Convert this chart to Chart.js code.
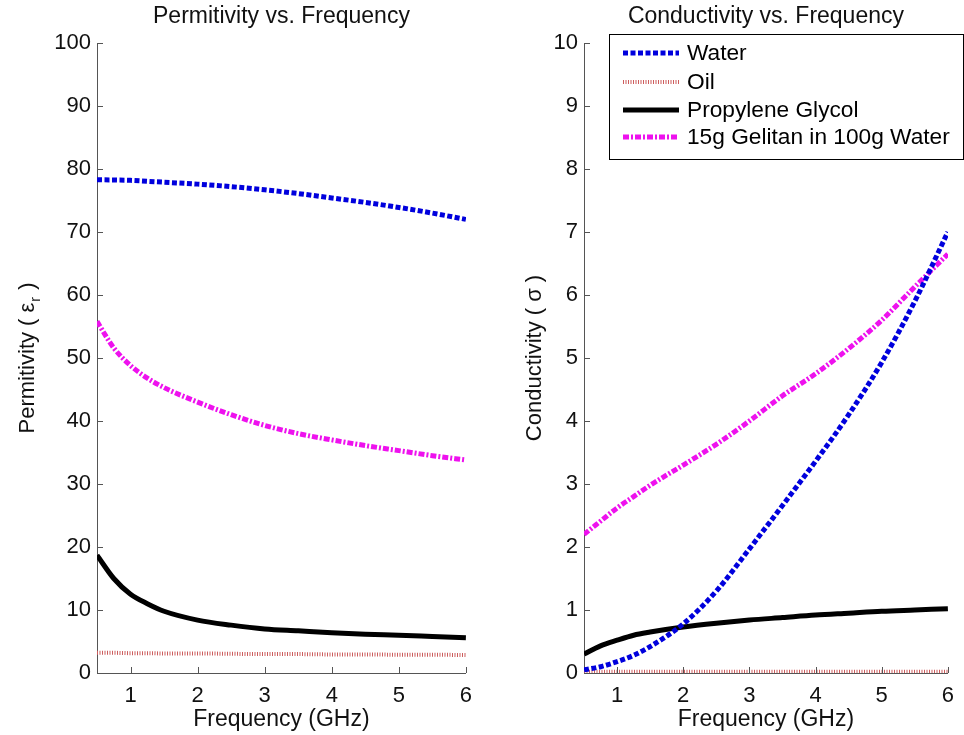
<!DOCTYPE html>
<html lang="en">
<head>
  <meta charset="UTF-8">
  <title>Permitivity / Conductivity vs. Frequency</title>
  <script src="https://cdn.jsdelivr.net/npm/chart.js"></script>
  <style>
    body {
      margin: 0;
      background: #fff;
      font-family: "Liberation Sans", Arial, sans-serif;
    }
    .panel {
      position: absolute;
      top: 0;
      width: 482px;
      height: 735px;
    }
  </style>
</head>
<body>

  <div class="panel" style="left:0"><canvas id="permChart" width="482" height="735"></canvas></div>
  <div class="panel" style="left:482px"><canvas id="condChart" width="482" height="735"></canvas></div>

  <script>
    // frequency samples (GHz)
    const freq = [0.5, 0.75, 1, 1.25, 1.5, 2, 2.5, 3, 3.5, 4, 4.5, 5, 5.5, 6];

    // permitivity (eps_r)
    const waterEps = [78.3, 78.25, 78.2, 78.05, 77.9, 77.6, 77.2, 76.7, 76.1, 75.4, 74.7, 73.9, 73.0, 72.0];
    const oilEps   = [3.2, 3.2, 3.15, 3.15, 3.1, 3.1, 3.05, 3.0, 3.0, 2.95, 2.95, 2.9, 2.9, 2.85];
    const pgEps    = [18.7, 15.0, 12.5, 11.0, 9.8, 8.4, 7.6, 7.0, 6.7, 6.4, 6.15, 6.0, 5.8, 5.6];
    const gelEps   = [55.8, 51.6, 48.8, 46.8, 45.3, 43.0, 41.0, 39.3, 38.0, 37.0, 36.1, 35.3, 34.5, 33.8];

    // conductivity (sigma)
    const waterSig = [0.05, 0.1, 0.18, 0.28, 0.42, 0.78, 1.3, 1.97, 2.66, 3.36, 4.1, 4.93, 5.9, 7.0];
    const oilSig   = [0.02, 0.02, 0.02, 0.02, 0.02, 0.02, 0.02, 0.02, 0.02, 0.02, 0.02, 0.02, 0.02, 0.02];
    const pgSig    = [0.3, 0.43, 0.52, 0.6, 0.65, 0.73, 0.79, 0.84, 0.88, 0.92, 0.95, 0.98, 1.0, 1.02];
    const gelSig   = [2.2, 2.41, 2.62, 2.8, 2.98, 3.3, 3.63, 4.0, 4.4, 4.75, 5.15, 5.6, 6.13, 6.65];

    const seriesNames = ['Water', 'Oil', 'Propylene Glycol', '15g Gelitan in 100g Water'];
    const xTicks = [1, 2, 3, 4, 5, 6];

    const FONT = '"Liberation Sans", Arial, sans-serif';

    function pts(vals) {
      return freq.map((f, i) => ({ x: f, y: vals[i] }));
    }

    function makeDatasets(w, o, p, g) {
      return [
        { label: seriesNames[0], data: pts(w), borderColor: '#0000dd', borderWidth: 5, borderDash: [5, 2.5] },
        { label: seriesNames[1], data: pts(o), borderColor: '#cc5c5c', borderWidth: 4, borderDash: [1, 1.5] },
        { label: seriesNames[2], data: pts(p), borderColor: '#000000', borderWidth: 5 },
        { label: seriesNames[3], data: pts(g), borderColor: '#ee11ee', borderWidth: 5, borderDash: [6, 2, 2, 2] }
      ].map(d => Object.assign(d, { pointRadius: 0, fill: false, cubicInterpolationMode: 'monotone' }));
    }

    // inward tick marks, like the original plot
    const innerTicks = {
      id: 'innerTicks',
      afterDraw(chart) {
        const { ctx, chartArea, scales } = chart;
        ctx.save();
        ctx.strokeStyle = '#555';
        ctx.lineWidth = 1;
        ctx.beginPath();
        scales.x.ticks.forEach(t => {
          const px = Math.round(scales.x.getPixelForValue(t.value)) + 0.5;
          ctx.moveTo(px, chartArea.bottom);
          ctx.lineTo(px, chartArea.bottom - 6);
        });
        scales.y.ticks.forEach(t => {
          const py = Math.round(scales.y.getPixelForValue(t.value)) + 0.5;
          ctx.moveTo(chartArea.left, py);
          ctx.lineTo(chartArea.left + 6, py);
        });
        ctx.stroke();
        ctx.restore();
      }
    };

    // panel title centred over the plot area + rotated y title (with subscript)
    const panelText = {
      id: 'panelText',
      afterDraw(chart, args, opts) {
        const { ctx, chartArea } = chart;
        ctx.save();
        ctx.fillStyle = '#111';
        ctx.textBaseline = 'middle';
        ctx.textAlign = 'center';
        ctx.font = '23px ' + FONT;
        ctx.fillText(opts.title, (chartArea.left + chartArea.right) / 2, 17);

        const cy = (chartArea.top + chartArea.bottom) / 2;
        ctx.translate(opts.x, cy);
        ctx.rotate(-Math.PI / 2);
        ctx.textAlign = 'left';
        const main = opts.pre, sub = opts.sub || '', post = opts.post;
        ctx.font = '22px ' + FONT;
        const w1 = ctx.measureText(main).width;
        const w3 = ctx.measureText(post).width;
        ctx.font = '14px ' + FONT;
        const w2 = sub ? ctx.measureText(sub).width + 2 : 0;
        let x = -(w1 + w2 + w3) / 2;
        ctx.font = '22px ' + FONT;
        ctx.fillText(main, x, 0);
        x += w1;
        if (sub) {
          ctx.font = '14px ' + FONT;
          ctx.fillText(sub, x + 1, 8);
          x += w2;
        }
        ctx.font = '22px ' + FONT;
        ctx.fillText(post, x, 0);
        ctx.restore();
      }
    };

    // boxed legend in the upper right of the conductivity plot
    const boxLegend = {
      id: 'boxLegend',
      afterDraw(chart) {
        if (!chart.options.plugins.boxLegend.show) return;
        const { ctx } = chart;
        ctx.save();
        ctx.fillStyle = '#fff';
        ctx.fillRect(127, 34, 354, 125);
        ctx.strokeStyle = '#000';
        ctx.lineWidth = 1;
        ctx.strokeRect(127.5, 34.5, 354, 125);
        const rows = [53, 82, 110, 137];
        chart.data.datasets.forEach((d, i) => {
          ctx.beginPath();
          ctx.strokeStyle = d.borderColor;
          ctx.lineWidth = d.borderWidth;
          ctx.setLineDash(d.borderDash || []);
          ctx.moveTo(141, rows[i]);
          ctx.lineTo(197, rows[i]);
          ctx.stroke();
          ctx.setLineDash([]);
          ctx.fillStyle = '#000';
          ctx.font = '22.7px ' + FONT;
          ctx.textBaseline = 'middle';
          ctx.fillText(d.label, 205, rows[i] + 1);
        });
        ctx.restore();
      }
    };

    function makeOptions(yMax, yStep, yWidth, padRight, text, legendOn) {
      return {
        responsive: false,
        animation: false,
        layout: { padding: { left: 0, right: padRight, top: 43, bottom: 0 } },
        plugins: {
          legend: { display: false },
          tooltip: { enabled: false },
          title: { display: false },
          panelText: text,
          boxLegend: { show: legendOn }
        },
        scales: {
          x: {
            type: 'linear',
            min: 0.5,
            max: 6,
            afterBuildTicks: s => { s.ticks = xTicks.map(v => ({ value: v })); },
            afterFit: s => { s.height = 62; },
            grid: { display: false, drawTicks: false },
            border: { display: true, color: '#555', width: 1 },
            ticks: { color: '#111', padding: 10, font: { family: FONT, size: 22 } },
            title: {
              display: true,
              text: 'Frequency (GHz)',
              color: '#111',
              font: { family: FONT, size: 23 },
              padding: { top: 2, bottom: 2 }
            }
          },
          y: {
            min: 0,
            max: yMax,
            afterFit: s => { s.width = yWidth; },
            grid: { display: false, drawTicks: false },
            border: { display: true, color: '#555', width: 1 },
            ticks: { stepSize: yStep, color: '#111', padding: 6, font: { family: FONT, size: 22 } }
          }
        }
      };
    }

    new Chart(document.getElementById('permChart'), {
      type: 'line',
      data: { datasets: makeDatasets(waterEps, oilEps, pgEps, gelEps) },
      options: makeOptions(100, 10, 97, 15,
        { title: 'Permitivity vs. Frequency', x: 28, pre: 'Permitivity ( \u03b5', sub: 'r', post: ' )' }, false),
      plugins: [innerTicks, panelText, boxLegend]
    });

    new Chart(document.getElementById('condChart'), {
      type: 'line',
      data: { datasets: makeDatasets(waterSig, oilSig, pgSig, gelSig) },
      options: makeOptions(10, 1, 102, 11,
        { title: 'Conductivity vs. Frequency', x: 53, pre: 'Conductivity ( \u03c3', sub: '', post: ' )' }, true),
      plugins: [innerTicks, panelText, boxLegend]
    });
  </script>

</body>
</html>
